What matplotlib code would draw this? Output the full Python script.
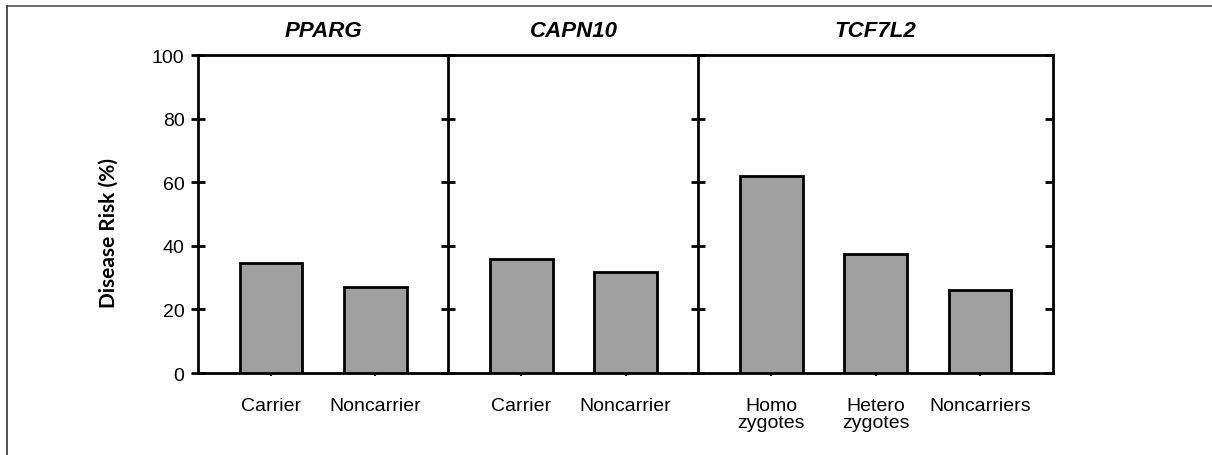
import matplotlib
matplotlib.use("Agg")
import matplotlib.pyplot as plt
from matplotlib.lines import Line2D

genes = ["PPARG", "CAPN10", "TCF7L2"]
groups = [
    ["Carrier", "Noncarrier"],
    ["Carrier", "Noncarrier"],
    ["Homo\nzygotes", "Hetero\nzygotes", "Noncarriers"],
]
risks = [
    [34.5, 27.0],
    [35.8, 31.7],
    [62.0, 37.3, 26.0],
]

BAR_COLOR = "#a0a0a0"
LW = 2.0
TICK_FONT = "Liberation Sans"

fig = plt.figure(figsize=(12.12, 4.56), dpi=100)
gs = fig.add_gridspec(1, 3, width_ratios=[len(g) + 0.4 for g in groups],
                      left=0.1636, right=0.8686, bottom=0.1798, top=0.877,
                      wspace=0)

axes = []
for i, (gene, labels, vals) in enumerate(zip(genes, groups, risks)):
    ax = fig.add_subplot(gs[0, i])
    x = list(range(len(vals)))
    ax.bar(x, vals, width=0.6, color=BAR_COLOR, edgecolor="black",
           linewidth=LW, zorder=3)
    ax.set_xlim(-0.7, len(vals) - 0.3)
    ax.set_ylim(0, 100)
    ax.set_yticks([0, 20, 40, 60, 80, 100])
    ax.set_xticks(x)
    ax.set_xticklabels(labels, fontsize=14, family=TICK_FONT,
                       linespacing=1.05)
    ax.tick_params(axis="x", direction="out", length=2, width=1.5, pad=15)
    ax.tick_params(axis="y", direction="inout", length=10, width=2)
    for s in ax.spines.values():
        s.set_linewidth(LW)
    ax.spines["right"].set_visible(False)
    if i == len(genes) - 1:
        ax.spines["right"].set_visible(True)
    ax.set_title(gene, fontsize=16, fontweight="bold", style="italic",
                 family=TICK_FONT, pad=14)
    if i == 0:
        ax.set_yticklabels([str(t) for t in [0, 20, 40, 60, 80, 100]],
                           fontsize=14, family=TICK_FONT)
        ax.tick_params(axis="y", pad=5)
    else:
        ax.set_yticklabels([])
    axes.append(ax)

# right spine ticks point inward only
axes[-1].tick_params(axis="y", right=True)
for t in axes[-1].yaxis.get_major_ticks():
    t.tick2line.set_marker(matplotlib.lines.TICKLEFT)
    t.tick2line.set_markersize(6)

axes[0].set_ylabel("Disease Risk (%)", fontsize=15, fontweight="bold",
                   family="Lato")
axes[0].yaxis.set_label_coords(-0.319, 0.443)

# outer frame (top and left edges)
fig.add_artist(Line2D([7 / 1212, 1], [1 - 7 / 456, 1 - 7 / 456],
                      color="#555555", lw=1.2, transform=fig.transFigure))
fig.add_artist(Line2D([7 / 1212, 7 / 1212], [0, 1 - 7 / 456],
                      color="#333333", lw=1.2, transform=fig.transFigure))

fig.savefig("out.png", dpi=100)
